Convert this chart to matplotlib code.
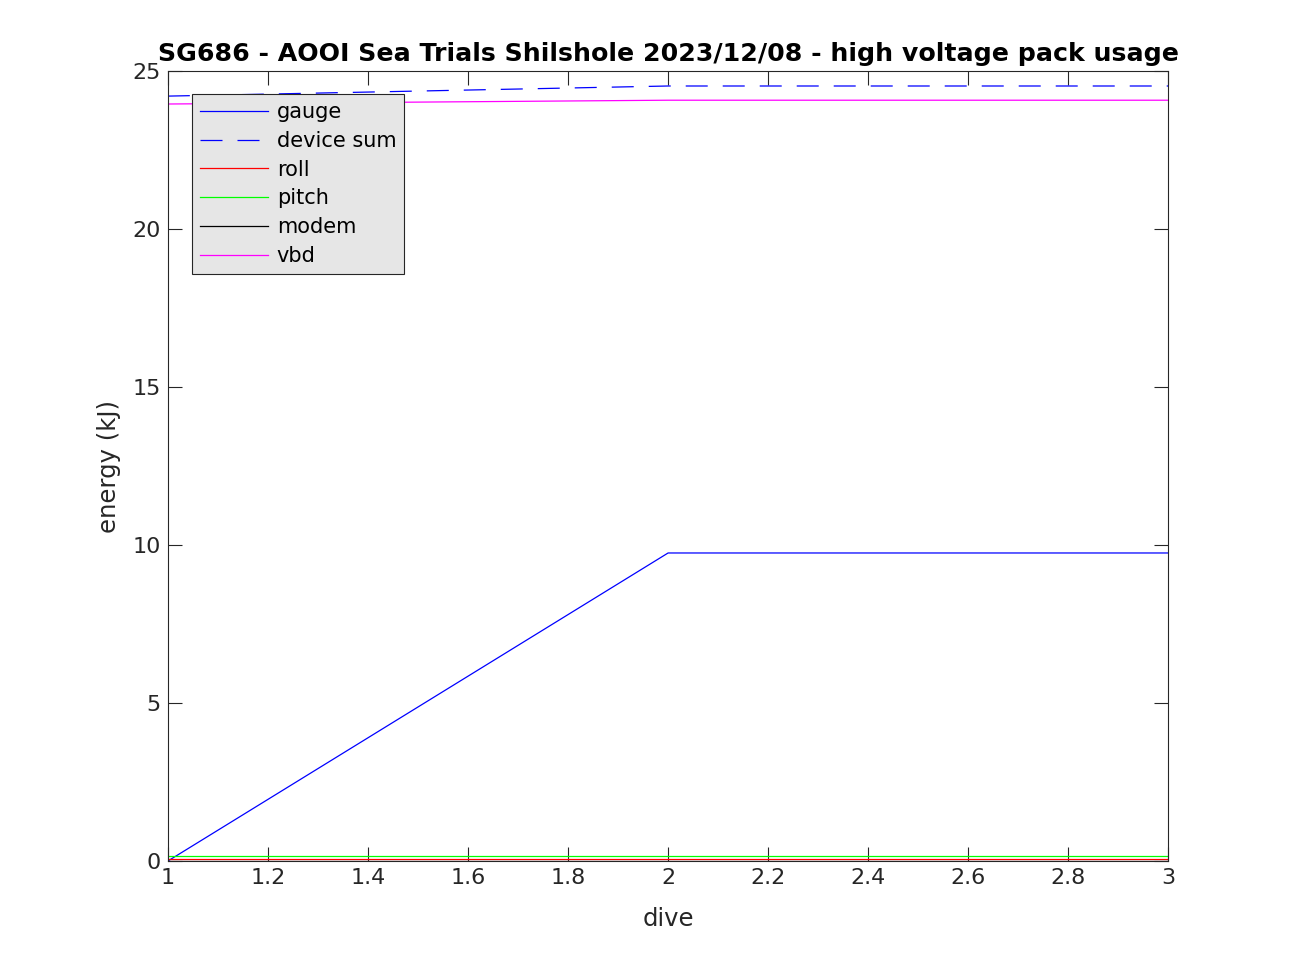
import matplotlib
matplotlib.use("Agg")
import matplotlib.pyplot as plt

dives = [1, 2, 3]
gauge = [0.0, 9.75, 9.75]
device_sum = [24.21, 24.53, 24.53]
roll = [0.05, 0.05, 0.05]
pitch = [0.16, 0.16, 0.16]
modem = [0.01, 0.01, 0.01]
vbd = [23.96, 24.08, 24.08]

title = "SG686 - AOOI Sea Trials Shilshole 2023/12/08 - high voltage pack usage"

fig = plt.figure(figsize=(12.91, 9.68), dpi=100)
ax = fig.add_axes([0.13, 0.1105, 0.775, 0.816])

ax.plot(dives, gauge, color="#0000ff", lw=0.9, label="gauge")
ax.plot(dives, device_sum, color="#0000ff", lw=0.9, ls=(0, (17.6, 12)), label="device sum")
ax.plot(dives, roll, color="#ff0000", lw=0.9, label="roll")
ax.plot(dives, pitch, color="#00ff00", lw=0.9, label="pitch")
ax.plot(dives, modem, color="#000000", lw=0.9, label="modem")
ax.plot(dives, vbd, color="#ff00ff", lw=0.9, label="vbd")

ax.set_xlim(1, 3)
ax.set_ylim(0, 25)
ax.set_xticks([1, 1.2, 1.4, 1.6, 1.8, 2, 2.2, 2.4, 2.6, 2.8, 3])
ax.set_xticklabels(["1", "1.2", "1.4", "1.6", "1.8", "2", "2.2", "2.4", "2.6", "2.8", "3"])
ax.set_yticks([0, 5, 10, 15, 20, 25])
ax.tick_params(direction="in", top=True, right=True, length=10, labelsize=16,
               colors="#262626", labelcolor="#262626", pad=5)
for s in ax.spines.values():
    s.set_linewidth(0.8)
    s.set_color("#262626")
ax.set_xlabel("dive", fontsize=17.5, color="#262626", labelpad=14)
ax.set_ylabel("energy (kJ)", fontsize=17.5, color="#262626", labelpad=8)
ax.set_title(title, fontsize=18.2, fontweight="bold", pad=7)

leg = ax.legend(loc="upper left", bbox_to_anchor=(0.024, 0.9705), fontsize=15,
                frameon=True, fancybox=False, facecolor="#e6e6e6", edgecolor="#262626",
                handlelength=3.27, handletextpad=0.43, labelspacing=0.42, borderpad=0.37,
                borderaxespad=0)
leg.get_frame().set_linewidth(0.8)
leg.get_frame().set_alpha(1)

fig.savefig("out.png", dpi=100)
